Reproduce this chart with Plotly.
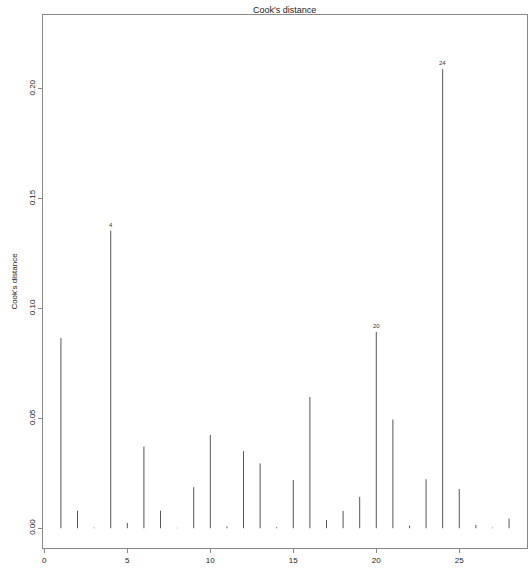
import plotly.graph_objects as go

# Cook's distance for each observation
obs = list(range(1, 29))
cooks_d = [0.0866, 0.0080, 0.0003, 0.1355, 0.0024, 0.0372, 0.0080, 0.0002,
           0.0187, 0.0425, 0.0008, 0.0351, 0.0295, 0.0005, 0.0220, 0.0597,
           0.0038, 0.0079, 0.0143, 0.0894, 0.0495, 0.0012, 0.0223, 0.2090,
           0.0179, 0.0015, 0.0003, 0.0044]
flagged = [4, 20, 24]

# type="h" style vertical lines
xs, ys = [], []
for i, d in zip(obs, cooks_d):
    xs += [i, i, None]
    ys += [0, d, None]

fig = go.Figure()
fig.add_trace(go.Scatter(x=xs, y=ys, mode='lines',
                         line=dict(color='#555555', width=1),
                         hoverinfo='skip', showlegend=False))

for k in flagged:
    fig.add_annotation(x=k, y=cooks_d[k - 1], text=str(k), showarrow=False,
                       yanchor='bottom', yshift=1,
                       font=dict(size=6, color='#333333'))

ymax = max(cooks_d) * 1.075
pad = ymax * 0.04
axis_font = dict(family='Liberation Sans, Arial, sans-serif', size=8, color='#222222')

fig.update_layout(
    width=532, height=572,
    margin=dict(l=43, r=5, t=15, b=24),
    paper_bgcolor='white', plot_bgcolor='white',
    title=dict(text="Cook's distance", x=0.535, xanchor='center', y=0.9825, yanchor='middle',
               font=dict(family='Liberation Sans, Arial, sans-serif', size=9, color='#222222')),
    font=axis_font,
    xaxis=dict(range=[-0.08, 29.08], tickvals=[0, 5, 10, 15, 20, 25],
               showgrid=False, zeroline=False, showline=True, mirror=True,
               linecolor='#888888', linewidth=1, ticks='outside', ticklen=4,
               tickcolor='#888888', tickfont=axis_font, automargin=False),
    yaxis=dict(range=[-pad, ymax + pad], tickvals=[0, 0.05, 0.10, 0.15, 0.20],
               ticktext=['0.00', '0.05', '0.10', '0.15', '0.20'], tickangle=-90,
               showgrid=False, zeroline=False, showline=True, mirror=True,
               linecolor='#888888', linewidth=1, ticks='outside', ticklen=4,
               tickcolor='#888888', tickfont=axis_font, automargin=False,
               title=dict(text="Cook's distance", standoff=8, font=axis_font)),
)

# drop the default page margin so the figure sits at the window's corner
fig.write_html("out.html", config={'displayModeBar': False},
               post_script="document.body.style.margin='0';")
